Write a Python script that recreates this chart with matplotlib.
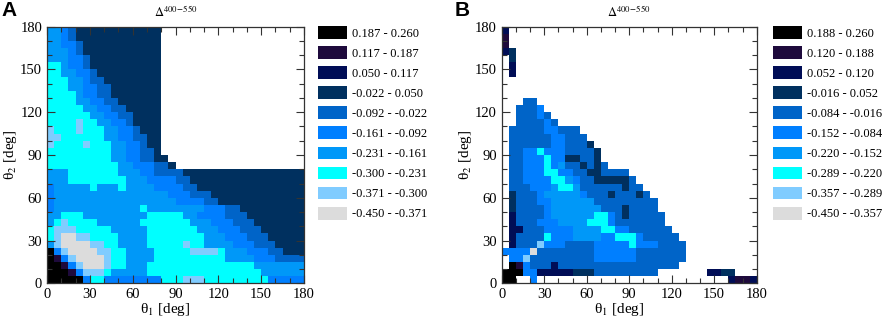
import numpy as np
import matplotlib

matplotlib.use("Agg")
import matplotlib.pyplot as plt
from matplotlib.colors import ListedColormap, BoundaryNorm
from matplotlib.patches import Patch
from matplotlib.ticker import MultipleLocator

plt.rcParams["font.family"] = ["Liberation Serif", "DejaVu Serif"]
plt.rcParams["mathtext.fontset"] = "stix"

# class letters, lowest value first; '.' means no data
CLASS_CODES = "GLCSBMDNPK"
CLASS_COLORS = ["#dcdcdc", "#80ccff", "#00ffff", "#0098f8", "#007fff",
                "#0064c8", "#00305f", "#000d56", "#1e0a3c", "#000000"]

EDGES_A = [-0.450, -0.371, -0.300, -0.231, -0.161, -0.092, -0.022, 0.050, 0.117, 0.187, 0.260]
EDGES_B = [-0.450, -0.357, -0.289, -0.220, -0.152, -0.084, -0.016, 0.052, 0.120, 0.188, 0.260]

THETA_EDGES = np.arange(0, 181, 5)
TICKS = [0, 30, 60, 90, 120, 150, 180]

# rows from theta2 = 175-180 (top) down to 0-5, columns theta1 = 0-5 ... 175-180
GRID_A = [
    "SSBMDDDDDDDDDDDD....................",
    "SSBMDDDDDDDDDDDD....................",
    "SSBBMDDDDDDDDDDD....................",
    "SSSBMDDDDDDDDDDD....................",
    "SSSBBMDDDDDDDDDD....................",
    "CCSBBMDDDDDDDDDD....................",
    "CCSSBBMDDDDDDDDD....................",
    "CCCSSBMMDDDDDDDD....................",
    "CCCSSBBMMDDDDDDD....................",
    "CCCCSBBMMDDDDDDD....................",
    "CCCCSSBBMMDDDDDD....................",
    "CCCCCSSBBMMDDDDD....................",
    "CCCCCCSSBBMMDDDD....................",
    "CCCCLCCSSBBMDDDD....................",
    "LCCCLCCCSSBBMDDD....................",
    "LLCCCCCCSSBBMMDD....................",
    "LCCCCLCCCSSBBMDD....................",
    "CCCCCCCCCSSBBMMD....................",
    "CCCCCCCCCSSBBMMDD...................",
    "CCCCCCCCCCSSBBBMMD..................",
    "SSSCCCCCCCSSSBBMMMMDDDDDDDDDDDDDDDDD",
    "SSSCCCCCCCCSSSBBBBMMDDDDDDDDDDDDDDDD",
    "BSSSSSCSSSCSSSSBBBBMMDDDDDDDDDDDDDDD",
    "BSSSSSSSSSSSSSSSSBBBMMMDDDDDDDDDDDDD",
    "BSSSSSSSSSSSSSSSSSBBBBMMDDDDDDDDDDDD",
    "BSSSSSSSSSSSSCSSSSSSSSBBBMMDDDDDDDDD",
    "SSCCCSSSSSSSSSCCCCCSSBBBBMMMDDDDDDDD",
    "SCLCCCCSSSSSSCCCCCCCSSSBBBMMMDDDDDDD",
    "CLLLCCCCCSSSSSCCCCCCCSSSBBBMMMDDDDDD",
    "CLGGLLCCCCSSSSCCCCCCCCSSSBBBMMMDDDDD",
    "SLGGGGLLCCSSSSCCCCCLCCSSSSBBBMMMDDDD",
    "KBLGGGGLLCCSSSSCCCCCLLLLCSSSBBBMMDDD",
    "KPBLGGGGLCCSSSSCCCCCCCCCCSSSSBBBMMMM",
    "KKPBLGGGLCCSSSCCCCCCCCCCCCCCCSSSSSSS",
    "KKKPBLLLCSSSSSCCCCCCCCCCCCCCCCSSSSSS",
    "KKKKKBCCBBBBBBBBCCCLLLCCCCCCCCCBBBBB",
]

GRID_B = [
    "N...................................",
    "P...................................",
    "P...................................",
    "ND..................................",
    ".D..................................",
    ".N..................................",
    ".N..................................",
    "....................................",
    "....................................",
    "....................................",
    "...MM...............................",
    "..MMMB..............................",
    "..MMMBM.............................",
    "..MMMMBM............................",
    ".MMMMMBBMMM.........................",
    ".MMMMMMBBMMM........................",
    ".MMMMMMBBMMMD.......................",
    ".MMBBCBBBMMMMD......................",
    ".MMBBBCBBDDMMD......................",
    ".MMBBBCBSMMDMDM.....................",
    ".MMBBBCCBBMMDDMMMM..................",
    ".MMBBBBCCSBMMDDDDDM.................",
    ".MMMBBBSCCSMMMMMMDMM................",
    ".DMMMBSSSSSBMMMDMMMDM...............",
    ".DMMMBBSSSSSSMMMMMMMMM..............",
    ".DMMMMBSSSSSSSMMMDMMMM..............",
    ".NMMMMBSSSSSSCCBMDMMMMM.............",
    ".NMMMBBBSSSSCCCBMMMMMMM.............",
    ".NNMMMBBBBSSSSCCBBMMMMMM............",
    ".NMMMMCBBBSSSSBBCCCBMMMMM...........",
    ".NMMMLBBBMMMMBBBBBCBBBMMMM..........",
    "BBBBGMMMMMMMMBBBBBBMMMMMMM..........",
    ".BBLMMMMMMMMMBBBBBBMMMMMMM..........",
    ".KPBMMMNMMMMMMMMMMMMMMMMM...........",
    "KKKBBNNNNNDDDMMMMMMMMM.......NNDD...",
    "KK..B...........................NPPN",
]


def grid_values(rows, edges):
    mids = [(edges[i] + edges[i + 1]) / 2 for i in range(len(edges) - 1)]
    values = []
    for row in rows:
        row = row.ljust(36, ".")[:36]
        values.append([mids[CLASS_CODES.index(ch)] if ch in CLASS_CODES else np.nan for ch in row])
    values = np.array(values[::-1])
    return np.ma.masked_invalid(values)


def draw_panel(fig, rect, rows, edges, letter, letter_x, legend_x):
    ax = fig.add_axes(rect)
    cmap = ListedColormap(CLASS_COLORS)
    norm = BoundaryNorm(edges, cmap.N)
    ax.pcolormesh(THETA_EDGES, THETA_EDGES, grid_values(rows, edges), cmap=cmap, norm=norm)
    ax.set_xlim(0, 180)
    ax.set_ylim(0, 180)
    ax.set_xticks(TICKS)
    ax.set_yticks(TICKS)
    ax.xaxis.set_minor_locator(MultipleLocator(10))
    ax.yaxis.set_minor_locator(MultipleLocator(10))
    ax.tick_params(which="both", direction="in", top=True, right=True, width=0.8, colors="#333333",
                   labelcolor="black", labelsize=10.5, pad=3.5)
    ax.tick_params(which="major", length=6)
    ax.tick_params(which="minor", length=3.5)
    for spine in ax.spines.values():
        spine.set_linewidth(0.9)
        spine.set_color("#333333")
    ax.set_xlabel("θ$_1$ [deg]", fontsize=11)
    ax.set_ylabel("θ$_2$ [deg]", fontsize=11)
    ax.xaxis.set_label_coords(0.46, -0.068)
    ax.yaxis.set_label_coords(-0.108, 0.5)
    ax.set_title(r"$\Delta^{400\!-\!550}$", fontsize=9, pad=7)

    handles = []
    for i in range(len(CLASS_COLORS) - 1, -1, -1):
        label = f"{edges[i]:.3f} - {edges[i + 1]:.3f}"
        handles.append(Patch(facecolor=CLASS_COLORS[i], edgecolor="none", label=label))
    ax.legend(handles=handles, loc="upper left", bbox_to_anchor=(legend_x / 886, 1 - 26 / 320),
              bbox_transform=fig.transFigure, frameon=False, borderpad=0, borderaxespad=0,
              handlelength=2.3, handleheight=1.19, labelspacing=0.52, handletextpad=0.4,
              fontsize=9)
    fig.text(letter_x / 886, 1 - 1 / 320, letter, fontsize=15, fontweight="bold",
             family="Liberation Sans", va="top", ha="left")
    return ax


fig = plt.figure(figsize=(8.86, 3.2), dpi=100)
draw_panel(fig, [47 / 886, 36.7 / 320, 257 / 886, 256.6 / 320], GRID_A, EDGES_A, "A", 1, 318)
draw_panel(fig, [501.7 / 886, 36.7 / 320, 255 / 886, 256.6 / 320], GRID_B, EDGES_B, "B", 455, 773)
fig.savefig("out.png", dpi=100)
